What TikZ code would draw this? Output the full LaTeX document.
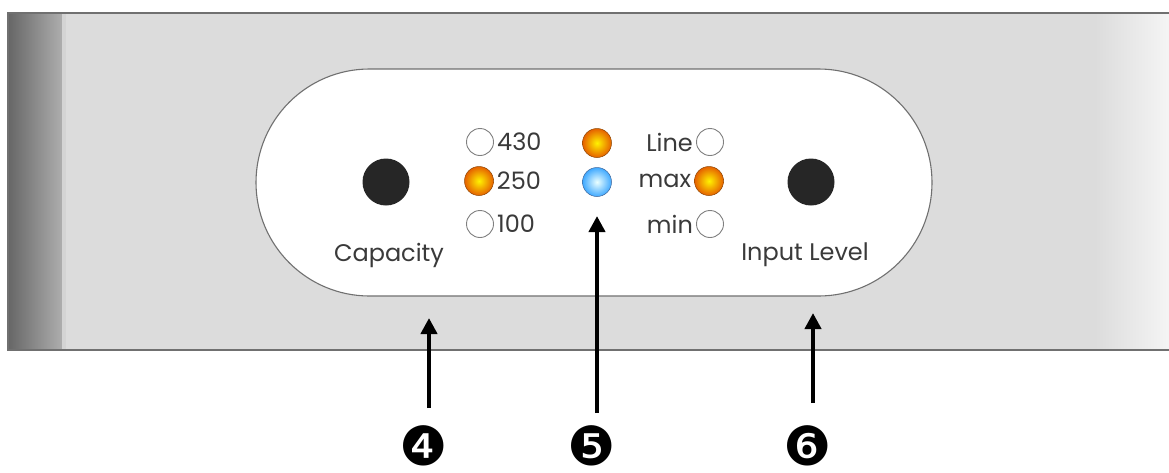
\documentclass[tikz,border=0pt]{standalone}
\usepackage{fontspec}
\setmainfont{Poppins}
\newfontfamily\dingfont{DejaVu Sans}
\usetikzlibrary{arrows.meta}
\usetikzlibrary{shapes.misc}
\usetikzlibrary{positioning}
\definecolor{panelgray}{HTML}{DCDCDC}
\definecolor{edgegray}{HTML}{707070}
\definecolor{printgray}{HTML}{3A3A3A}
\tikzset{my arrow/.style={-{Triangle[length=16pt,width=16pt]}, line width=4pt, black}}
\tikzset{knob/.style={circle, fill=black!85, minimum size=47pt, inner sep=0pt}}
\tikzset{led off/.style={circle, draw=black!50, fill=white, line width=0.9pt, minimum size=27pt, inner sep=0pt}}
\tikzset{led orange/.style={circle, draw=orange!55!black, line width=0.5pt, inner color=yellow!90!orange, outer color=orange!85!red!90!black, minimum size=29pt, inner sep=0pt}}
\tikzset{led blue/.style={circle, draw=cyan!50!blue!70!black, line width=0.5pt, inner color=cyan!8, outer color=cyan!55!blue!75, minimum size=29pt, inner sep=0pt}}
\tikzset{printtext/.style={font=\fontsize{24}{28}\selectfont, text=printgray, inner sep=3pt}}
\tikzset{numtag/.style={font=\dingfont\fontsize{54}{58}\selectfont, inner sep=0pt}}

\begin{document}
\begin{tikzpicture}[x=1pt, y=-1pt]
  \useasboundingbox (0,0) rectangle (1169,472);
  % housing
  \fill[panelgray] (8,13) rectangle (1169,350);
  \shade[left color=black!60, right color=black!32] (8,13) rectangle (62,350);
  \fill[black!17] (62,13) rectangle (66,350);
  \shade[left color=panelgray, right color=black!4] (1095,13) rectangle (1169,350);
  \draw[edgegray, line width=1.6pt] (1169,13) -- (8,13) -- (8,350) -- (1169,350);

  \node[rounded rectangle, draw=edgegray, line width=1.1pt, fill=white, minimum width=676pt, minimum height=227pt, inner sep=0pt] (face) at (594,182.5) {};

  \node[knob] (capknob) at (386,182) {};
  \node[knob] (lvlknob) at (811,182) {};
  \node[printtext] (captxt) at (389,255) {Capacity};
  \node[printtext] (lvltxt) at (805,255) {Input Level};

  % capacity leds
  \node[led off]    (c430) at (480,142) {};
  \node[led orange] (c250) at (479,181) {};
  \node[led off]    (c100) at (480,224) {};
  \node[printtext, anchor=west] at (c430.east) {430};
  \node[printtext, anchor=west] at (c250.east) {250};
  \node[printtext, anchor=west] at (c100.east) {100};

  % status leds
  \node[led orange] (stat1) at (597,143) {};
  \node[led blue]   (stat2) at (597,182) {};

  % input leds
  \node[led off]    (iline) at (710,142) {};
  \node[led orange] (imax)  at (709,181) {};
  \node[led off]    (imin)  at (710,224) {};
  \node[printtext, anchor=east] at (iline.west) {Line};
  \node[printtext, anchor=east] at (imax.west) {max};
  \node[printtext, anchor=east] at (imin.west) {min};

  % callouts
  \node[numtag] (tag4) at (424,446) {❹};
  \node[numtag] (tag5) at (592,446) {❺};
  \node[numtag] (tag6) at (808,446) {❻};
  \coordinate (foot4) at (429,408);
  \coordinate (tip4)  at (429,318);
  \coordinate (foot5) at (597,413);
  \coordinate (tip5)  at (597,216);
  \coordinate (foot6) at (813,403);
  \coordinate (tip6)  at (813,313);
  \draw[my arrow] (foot4) -- (tip4);
  \draw[my arrow] (foot5) -- (tip5);
  \draw[my arrow] (foot6) -- (tip6);
\end{tikzpicture}
\end{document}
